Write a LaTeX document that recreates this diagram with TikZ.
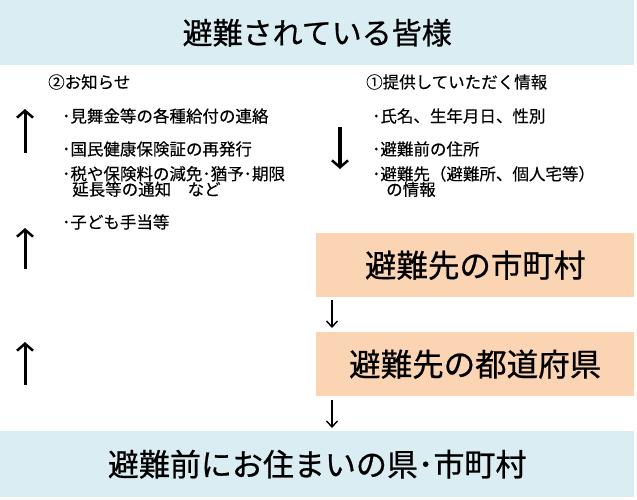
\documentclass[tikz,border=0pt]{standalone}
\usepackage{fontspec}
\setmainfont{Noto Sans CJK JP}[FakeBold=0.3]
\newfontfamily\bigjp{Noto Sans CJK JP}[FakeBold=0.7]
\usetikzlibrary{arrows.meta}
\definecolor{bandblue}{HTML}{DAEDF2}
\definecolor{boxorange}{HTML}{FBD4B4}
\begin{document}
\begin{tikzpicture}[x=1pt,y=-1pt,
  band/.style={fill=bandblue,draw=none,inner sep=0pt,minimum width=634pt,minimum height=65pt,anchor=north west,font=\bigjp\fontsize{30pt}{34pt}\selectfont},
  obox/.style={fill=boxorange,draw=none,inner sep=0pt,minimum width=318pt,minimum height=64pt,anchor=north west,font=\bigjp\fontsize{31.5pt}{34pt}\selectfont},
  small/.style={inner sep=0pt,anchor=west,align=left,font=\fontsize{16.5pt}{15.5pt}\selectfont},
  bigarrow/.style={line width=3pt,-{Straight Barb[length=7pt,width=16pt,line width=2.5pt]}},
  thinarrow/.style={line width=1.6pt,-{Straight Barb[length=6pt,width=11pt,line width=1.4pt]}}]
\useasboundingbox (0,0) rectangle (637,499);
% bands and boxes
\node[band] (top) at (0,0) {避難されている皆様};
\node[obox] (muni) at (316,233) {避難先の市町村};
\node[obox] (pref) at (316,332) {避難先の都道府県};
\node[band,minimum height=66pt,font=\bigjp\fontsize{31pt}{34pt}\selectfont] (home) at (0,431) {避難前にお住まいの県･市町村};
% left column
\node[small] (notice) at (48,82) {②お知らせ};
\node[small] (n1) at (62,116) {･見舞金等の各種給付の連絡};
\node[small] (n2) at (62,149) {･国民健康保険証の再発行};
\node[small] (n3) at (62,181.5) {･税や保険料の減免･猶予･期限\\\hspace*{10pt}延長等の通知　など};
\node[small] (n4) at (62,222) {･子ども手当等};
% right column
\node[small] (info) at (366,82) {①提供していただく情報};
\node[small] (i1) at (372,116) {･氏名、生年月日、性別};
\node[small] (i2) at (372,149) {･避難前の住所};
\node[small] (i3) at (372,181.5) {･避難先（避難所、個人宅等）\\\hspace*{14pt}の情報};
% arrow end points
\coordinate (l1s) at (25,153); \coordinate (l1e) at (25,109);
\coordinate (l2s) at (25,269); \coordinate (l2e) at (25,228);
\coordinate (l3s) at (25,385); \coordinate (l3e) at (25,342);
\coordinate (ds) at (340,127); \coordinate (de) at (340,169);
\coordinate (s1s) at (332,300); \coordinate (s1e) at (332,328);
\coordinate (s2s) at (332,400); \coordinate (s2e) at (332,428);
\draw[bigarrow] (l1s) -- (l1e);
\draw[bigarrow] (l2s) -- (l2e);
\draw[bigarrow] (l3s) -- (l3e);
\draw[bigarrow,line width=3.5pt] (ds) -- (de);
\draw[thinarrow] (s1s) -- (s1e);
\draw[thinarrow] (s2s) -- (s2e);
\end{tikzpicture}
\end{document}
